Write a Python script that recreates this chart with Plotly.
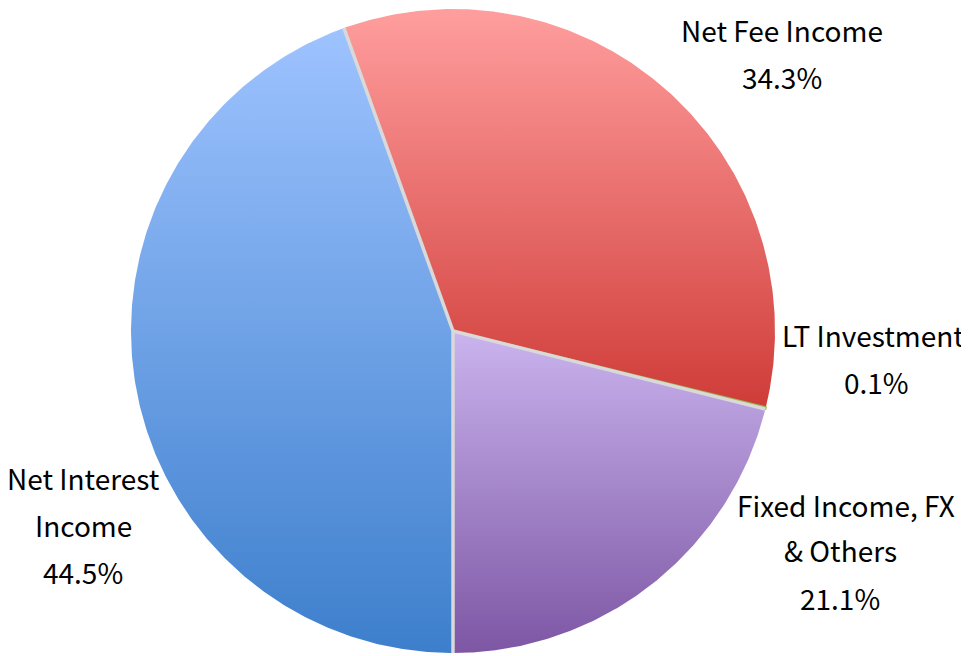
import numpy as np
import plotly.graph_objects as go

# data
categories = ["Net Interest Income", "Net Fee Income", "LT Investment", "Fixed Income, FX & Others"]
shares = [44.5, 34.3, 0.1, 21.1]
label_lines = [["Net Interest", "Income"], ["Net Fee Income"], ["LT Investment"], ["Fixed Income, FX", "& Others"]]

# styling
TOP_COLORS = ["#9ec3ff", "#ff9e9e", "#9bbb59", "#cab4ee"]
BOTTOM_COLORS = ["#3d7fcc", "#cf3c38", "#9bbb59", "#7d56a4"]
EDGE = "#d9d9d9"
RADIUS = 322
START_ANGLE = 180  # degrees clockwise from 12 o'clock
FONT = "Noto Sans CJK TC, sans-serif"

# label anchor points (centre of each text line), relative to pie centre
LABEL_POS = [
    [(-370, -147), (-370, -194), (-370, -241)],
    [(329, 301), (329, 254)],
    [(420, -4), (423, -51)],
    [(393, -174), (387, -219), (387, -267)],
]

fig = go.Figure()
total = sum(shares)
cum = 0.0
bounds = []
for i, (name, share) in enumerate(zip(categories, shares)):
    a0 = START_ANGLE + cum / total * 360
    cum += share
    a1 = START_ANGLE + cum / total * 360
    bounds.append(a0)
    theta = np.radians(np.linspace(a0, a1, max(3, int(a1 - a0) * 2 + 2)))
    xs = np.concatenate([[0], RADIUS * np.sin(theta), [0]])
    ys = np.concatenate([[0], RADIUS * np.cos(theta), [0]])
    is_thin = share < 1
    fig.add_trace(go.Scatter(
        x=xs, y=ys, mode="lines", fill="toself", name=name,
        fillgradient=dict(type="vertical",
                          colorscale=[[0, BOTTOM_COLORS[i]], [1, TOP_COLORS[i]]]),
        line=dict(color=BOTTOM_COLORS[i], width=2 if is_thin else 0),
        hoverinfo="name",
    ))

# light separators between the slices
sep_x, sep_y = [], []
for i, a in enumerate(bounds):
    if shares[i] < 1:
        continue
    r = np.radians(a)
    sep_x += [0, RADIUS * np.sin(r), None]
    sep_y += [0, RADIUS * np.cos(r), None]
fig.add_trace(go.Scatter(x=sep_x, y=sep_y, mode="lines",
                         line=dict(color=EDGE, width=3.5), hoverinfo="skip"))

for lines, share, pos in zip(label_lines, shares, LABEL_POS):
    texts = lines + [f"{share:.1f}%"]
    for t, (x, y) in zip(texts, pos):
        fig.add_annotation(x=x, y=y, text=t, showarrow=False,
                           xanchor="center", yanchor="middle",
                           font=dict(size=28, color="#000000", family=FONT))

# page body adds an 8px offset; the ranges put the pie centre at (453, 331) on screen
fig.update_layout(
    width=969, height=656,
    margin=dict(l=0, r=0, t=0, b=0),
    paper_bgcolor="white", plot_bgcolor="white",
    showlegend=False,
    xaxis=dict(range=[-445, 524], visible=False, fixedrange=True),
    yaxis=dict(range=[-333, 323], visible=False, fixedrange=True),
)

fig.write_html("out.html")
